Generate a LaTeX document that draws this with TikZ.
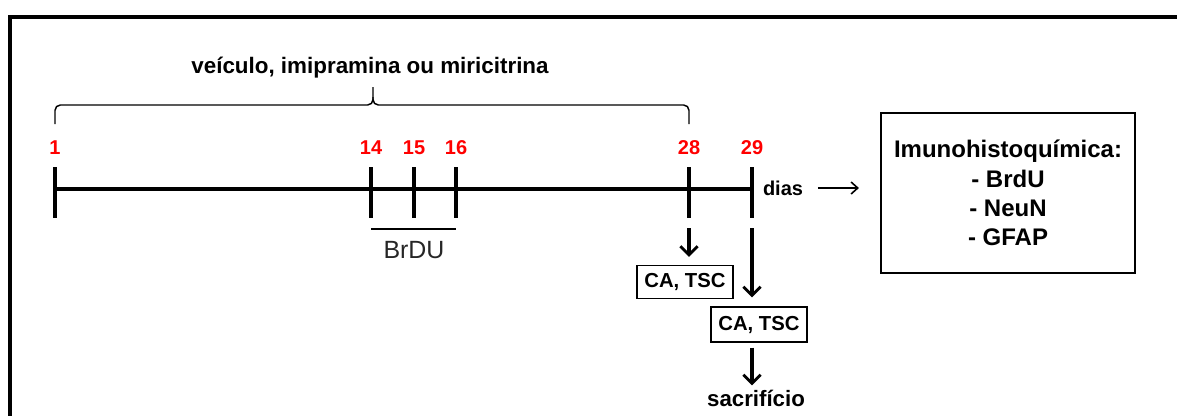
\documentclass[tikz,border=0pt]{standalone}
\usepackage{fontspec}
\setmainfont{Liberation Sans}
\usetikzlibrary{arrows.meta,calc}
\begin{document}
\begin{tikzpicture}[x=0.75pt,y=-0.75pt,
  frame/.style={line width=2.3pt},
  axis/.style={line width=2.3pt},
  thinline/.style={line width=1.1pt},
  daynum/.style={text=red,font=\bfseries\fontsize{15}{18}\selectfont,inner sep=0pt},
  title/.style={font=\bfseries\fontsize{16.8}{20}\selectfont,inner sep=0pt},
  boldtext/.style={font=\bfseries\fontsize{15}{18}\selectfont,inner sep=0pt},
  resultbox/.style={draw,line width=1.1pt,font=\bfseries\fontsize{15.2}{18}\selectfont,
    minimum width=72pt,minimum height=24.5pt,inner sep=0pt},
  bigarrow/.style={draw,line width=2.4pt,-{Straight Barb[length=6.5pt,width=13pt,line width=2.2pt]}},
  smallarrow/.style={draw,line width=1.2pt,-{Straight Barb[length=5pt,width=9pt]}}]
\useasboundingbox (0,0) rectangle (1177,415);
\clip (0,0) rectangle (1177,415);

% outer frame (open at right and bottom)
\draw[frame] (10,420) -- (10,17) -- (1182,17);

% days on the time line
\coordinate (d1)  at (55,189);
\coordinate (d14) at (371,189);
\coordinate (d15) at (414,189);
\coordinate (d16) at (456,189);
\coordinate (d28) at (689,189);
\coordinate (d29) at (752,189);

\draw[axis] (d1) -- (d29);
\foreach \d in {1,14,15,16,28,29}{
  \draw[axis] ($(d\d)+(0,-22)$) -- ($(d\d)+(0,29)$);
  \node[daynum] (n\d) at ($(d\d)+(0,-41)$) {\d};
}

% treatment brace
\coordinate (bl) at ($(d1)+(0,-65)$);
\coordinate (br) at ($(d28)+(0,-65)$);
\coordinate (bt) at (373,87);
\draw[thinline,rounded corners=4pt] (bl) -- (55,105) -- (373,105) -- (bt);
\draw[thinline,rounded corners=4pt] (373,97) -- (373,105) -- (689,105) -- (br);
\node[title] (trt) at (370,68) {veículo, imipramina ou miricitrina};

% BrdU injections
\draw[thinline] ($(d14)+(0,40)$) -- ($(d16)+(0,40)$);
\node[font=\fontsize{18.7}{22}\selectfont,text=black!85,inner sep=0pt] (brdu) at (414,250) {BrDU};

% behavioural tests and sacrifice
\node[resultbox] (ca1) at (685,282) {CA, TSC};
\node[resultbox,minimum height=26pt] (ca2) at (759,324.5) {CA, TSC};
\node[boldtext,font=\bfseries\fontsize{16.7}{20}\selectfont] (sacr) at (756,398) {sacrifício};

\path[bigarrow,shorten >=6pt] ($(d28)+(0,39)$) -- (d28 |- ca1.north);
\path[bigarrow,shorten >=6.75pt] ($(d29)+(0,39)$) -- (d29 |- ca2.north);
\path[bigarrow,shorten <=3.75pt,shorten >=3pt] (d29 |- ca2.south) -- (d29 |- sacr.north);

% immunohistochemistry
\node[boldtext] (dias) at (783,188) {dias};
\node[draw,line width=1.1pt,minimum width=190.5pt,minimum height=120pt,align=center,
  font=\bfseries\fontsize{18}{22}\selectfont] (imuno) at (1008,193)
  {Imunohistoquímica:\\- BrdU\\- NeuN\\- GFAP};
\path[smallarrow,shorten <=11pt,shorten >=16pt] (dias.east) -- (imuno.west |- dias.east);
\end{tikzpicture}
\end{document}
